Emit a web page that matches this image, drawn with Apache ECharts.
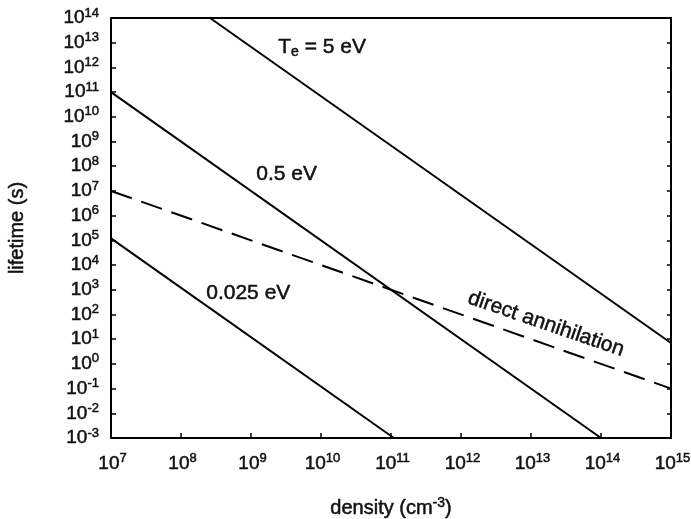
<!DOCTYPE html>
<html>
<head>
<meta charset="utf-8">
<script src="https://cdn.jsdelivr.net/npm/echarts@6/dist/echarts.min.js"></script>
<style>
  html, body { margin: 0; padding: 0; background: #fff; }
  #chart { width: 691px; height: 519px; }
</style>
</head>
<body>
<div id="chart"></div>
<script>
// endpoints: [density cm^-3, lifetime s]
const te5eV = [[2.6e8, 1e14], [1e15, 7]];
const te05eV = [[1e7, 1e11], [1e14, 1e-3]];
const te0025eV = [[1e7, 1.2e5], [1.1e11, 1e-3]];
const directAnnihilation = [[1e7, 1e7], [1e15, 0.1]];

const xMin = 1e7, xMax = 1e15;
const yMin = 1e-3, yMax = 1e14;

const FONT = '"Liberation Sans", Arial, sans-serif';
// the scanned lettering is heavier than a plain regular face
const INK = { color: "#111", textBorderColor: "#111", textBorderWidth: 0.5 };
const INK_G = { fill: "#111", stroke: "#111", lineWidth: 0.5 };

function powLabel(value) {
    const e = Math.round(Math.log10(value));
    return "{b|10}{s|" + e + "}";
}

const tickRich = {
    b: Object.assign({ fontSize: 19, fontFamily: FONT }, INK),
    s: Object.assign({ fontSize: 13, fontFamily: FONT, padding: [0, 0, 10, 0] }, INK)
};

function solid(data) {
    return {
        type: "line",
        data: data,
        symbol: "none",
        silent: true,
        lineStyle: { color: "#000", width: 2 }
    };
}

const chart = echarts.init(document.getElementById("chart"));

chart.setOption({
    animation: false,
    backgroundColor: "#fff",
    grid: { left: 111, right: 20, top: 18, bottom: 81, containLabel: false, outerBoundsMode: "none" },
    xAxis: [{
        type: "log",
        logBase: 10,
        min: xMin,
        max: xMax,
        interval: 1,
        splitNumber: 8,
        name: "{n|density (cm}{s|-3}{n|)}",
        nameLocation: "middle",
        nameGap: 58,
        nameTextStyle: {
            rich: {
                n: Object.assign({ fontSize: 20, fontFamily: FONT }, INK),
                s: Object.assign({ fontSize: 14, fontFamily: FONT, padding: [0, 0, 11, 0] }, INK)
            }
        },
        axisLine: { lineStyle: { color: "#000", width: 2 } },
        axisTick: { inside: true, length: 5, lineStyle: { color: "#000", width: 1.5 } },
        axisLabel: { formatter: powLabel, rich: tickRich, margin: 14, padding: [0, 0, 0, 3] },
        splitLine: { show: false },
        minorTick: { show: false }
    }, {
        type: "log",
        logBase: 10,
        min: xMin,
        max: xMax,
        position: "top",
        axisLine: { show: true, onZero: false, lineStyle: { color: "#000", width: 2 } },
        axisTick: { show: false },
        axisLabel: { show: false },
        splitLine: { show: false }
    }],
    yAxis: [{
        type: "log",
        logBase: 10,
        min: yMin,
        max: yMax,
        interval: 1,
        splitNumber: 17,
        name: "lifetime (s)",
        nameLocation: "middle",
        nameGap: 84,
        nameTextStyle: Object.assign({ fontSize: 20, fontFamily: FONT }, INK),
        axisLine: { show: true, lineStyle: { color: "#000", width: 2 } },
        axisTick: { inside: true, length: 5, lineStyle: { color: "#000", width: 1.5 } },
        axisLabel: { formatter: powLabel, rich: tickRich, margin: 12 },
        splitLine: { show: false }
    }, {
        type: "log",
        logBase: 10,
        min: yMin,
        max: yMax,
        interval: 1,
        splitNumber: 17,
        position: "right",
        axisLine: { show: true, onZero: false, lineStyle: { color: "#000", width: 2 } },
        axisTick: { inside: true, length: 4, lineStyle: { color: "#000", width: 1.5 } },
        axisLabel: { show: false },
        splitLine: { show: false }
    }],
    series: [
        solid(te5eV),
        solid(te05eV),
        solid(te0025eV),
        {
            type: "line",
            data: directAnnihilation,
            symbol: "none",
            silent: true,
            lineStyle: { color: "#000", width: 2, type: [22, 10] }
        }
    ],
    graphic: [
        {
            type: "text",
            left: 278,
            top: 36,
            style: {
                text: "{a|T}{e|e}{a| = 5 eV}",
                rich: {
                    a: Object.assign({ fontSize: 21, fontFamily: FONT }, INK_G),
                    e: Object.assign({ fontSize: 14, fontFamily: FONT, padding: [11, 0, 0, 0] }, INK_G)
                }
            }
        },
        {
            type: "text",
            left: 256,
            top: 163,
            style: Object.assign({ text: "0.5 eV", fontSize: 21, fontFamily: FONT }, INK_G)
        },
        {
            type: "text",
            left: 206,
            top: 282,
            style: Object.assign({ text: "0.025 eV", fontSize: 21, fontFamily: FONT }, INK_G)
        },
        {
            type: "text",
            x: 546,
            y: 324,
            rotation: -0.33,
            style: Object.assign({
                text: "direct annihilation",
                fontSize: 21,
                fontFamily: FONT,
                align: "center",
                verticalAlign: "middle"
            }, INK_G)
        }
    ]
});
</script>
</body>
</html>
